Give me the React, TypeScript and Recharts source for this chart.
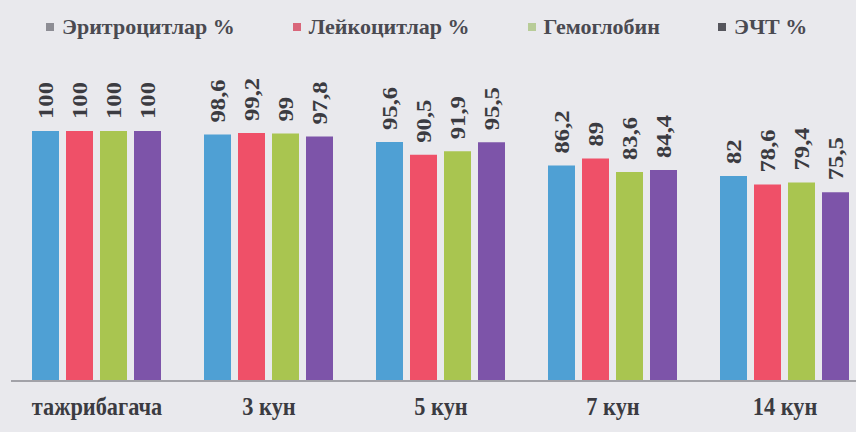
import { Bar, BarChart, LabelList, Legend, XAxis, YAxis } from 'recharts'

const categories = ['тажрибагача', '3 кун', '5 кун', '7 кун', '14 кун']
const erythrocytes = [100, 98.6, 95.6, 86.2, 82]
const leukocytes = [100, 99.2, 90.5, 89, 78.6]
const hemoglobin = [100, 99, 91.9, 83.6, 79.4]
const esr = [100, 97.8, 95.5, 84.4, 75.5]

const series = [
  { key: 'ery', name: 'Эритроцитлар %', color: '#4fa0d4', legendColor: '#8d8d94' },
  { key: 'leu', name: 'Лейкоцитлар %', color: '#ef5068', legendColor: '#d9667a' },
  { key: 'hgb', name: 'Гемоглобин', color: '#a9c550', legendColor: '#b8cc98' },
  { key: 'esr', name: 'ЭЧТ %', color: '#7d54a9', legendColor: '#56565d' },
]

const data = categories.map((name, i) => ({
  name,
  ery: erythrocytes[i],
  leu: leukocytes[i],
  hgb: hemoglobin[i],
  esr: esr[i],
}))

const font = '"Liberation Serif", "DejaVu Serif", serif'
const textColor = '#3b3b41'

const fmt = (v: number) => String(v).replace('.', ',')

// rotated value label above each bar
function ValueLabel(props: any) {
  const { x, y, width, value } = props
  const cx = x + width / 2
  const ty = y - 12
  return (
    <text
      transform={`translate(${cx},${ty}) rotate(-90) scale(1.12,1)`}
      textAnchor='start'
      dy='0.35em'
      style={{ fontFamily: font, fontWeight: 700, fontSize: 22 }}
      fill={textColor}
    >
      {fmt(value)}
    </text>
  )
}

function CategoryTick(props: any) {
  const { x, y, payload } = props
  return (
    <text
      transform={`translate(${x},${y + 34}) scale(0.86,1)`}
      textAnchor='middle'
      style={{ fontFamily: font, fontWeight: 700, fontSize: 26 }}
      fill={textColor}
    >
      {payload.value}
    </text>
  )
}

function LegendContent() {
  return (
    <div
      style={{
        display: 'flex',
        alignItems: 'center',
        paddingLeft: 46,
        gap: 58,
        fontFamily: font,
        fontWeight: 700,
        fontSize: 22,
        color: '#4a4a51',
      }}
    >
      {series.map((s) => (
        <div key={s.key} style={{ display: 'flex', alignItems: 'center', gap: 8 }}>
          <span style={{ width: 8, height: 8, background: s.legendColor, display: 'inline-block' }} />
          <span>{s.name}</span>
        </div>
      ))}
    </div>
  )
}

export default function App() {
  return (
    <div
      style={{
        position: 'fixed',
        top: 0,
        left: 0,
        width: 856,
        height: 432,
        overflow: 'hidden',
        background: '#e9e9ed',
      }}
    >
      <BarChart
        width={890}
        height={432}
        data={data}
        margin={{ top: 131, right: 19, bottom: 0, left: 11 }}
        barCategoryGap={21}
        barGap={7}
      >
        <XAxis
          dataKey='name'
          height={51}
          tickLine={false}
          tickSize={0}
          tickMargin={0}
          axisLine={{ stroke: '#a2a2a8', strokeWidth: 2 }}
          tick={<CategoryTick />}
          interval={0}
        />
        <YAxis hide domain={[0, 100]} />
        <Legend
          verticalAlign='middle'
          align='center'
          layout='horizontal'
          wrapperStyle={{ top: 14, left: 0, width: 856 }}
          content={<LegendContent />}
        />
        {series.map((s) => (
          <Bar key={s.key} dataKey={s.key} name={s.name} fill={s.color} isAnimationActive={false}>
            <LabelList dataKey={s.key} content={<ValueLabel />} />
          </Bar>
        ))}
      </BarChart>
    </div>
  )
}
